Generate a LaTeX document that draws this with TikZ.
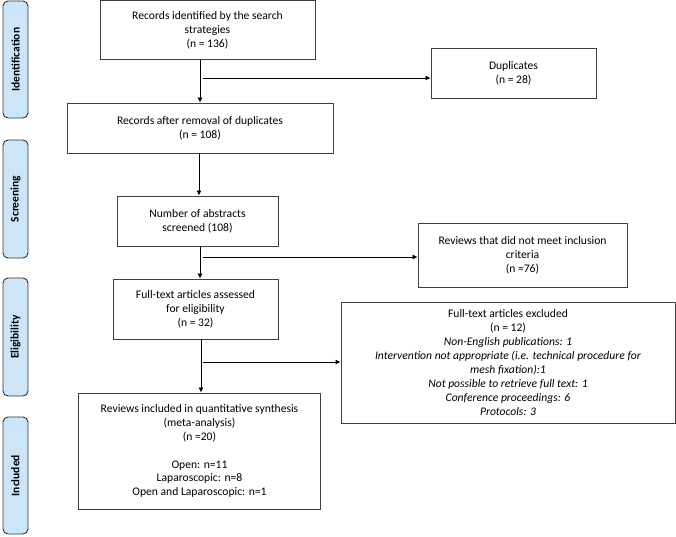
\documentclass[tikz,border=0pt]{standalone}
\usepackage{fontspec}
\setmainfont{Carlito}
\usetikzlibrary{arrows.meta}

\begin{document}
\begin{tikzpicture}[x=1pt,y=-1pt,
    box/.style={draw=black!75,line width=0.9pt,align=center,inner sep=0pt,
      font=\fontsize{11.6}{13.9}\selectfont},
    phase/.style={draw=black!80,line width=0.9pt,rounded corners=5pt,
      fill={rgb,255:red,204;green,229;blue,249},rotate=90,inner sep=0pt,
      minimum height=25pt,font=\fontsize{11.5}{13}\selectfont\bfseries},
    arr/.style={-{Latex[length=5pt,width=5pt]},line width=0.8pt}]
  \useasboundingbox (0,0) rectangle (676,536);

  \foreach \lbl/\y/\len in {Identification/59.5/117,Screening/199/118,
                            Eligibility/337/118,Included/475.5/117} {
    \node[phase,minimum width=\len pt] (ph-\lbl) at (15.5,\y) {\lbl};
  }

  \node[box,minimum width=215pt,minimum height=59pt] (found) at (207.5,30)
    {Records identified by the search\\strategies\\(n = 136)};
  \node[box,minimum width=165pt,minimum height=50pt] (dup) at (513.5,73)
    {Duplicates\\(n = 28)};
  \node[box,minimum width=266pt,minimum height=50pt] (nodup) at (200,128)
    {Records after removal of duplicates\\(n = 108)};
  \node[box,minimum width=161pt,minimum height=50pt] (abstr) at (197.5,221)
    {Number of abstracts\\screened (108)};
  \node[box,minimum width=209pt,minimum height=64pt] (notmeet) at (522.5,255)
    {Reviews that did not meet inclusion\\criteria\\(n =76)};
  \node[box,minimum width=165pt,minimum height=60pt] (fulltxt) at (195.5,309)
    {Full-text articles assessed\\for eligibility\\(n = 32)};
  \node[box,minimum width=334pt,minimum height=121pt] (excl) at (508,362.5)
    {Full-text articles excluded\\(n = 12)\\
     \textit{Non-English publications: 1}\\
     \textit{Intervention not appropriate (i.e. technical procedure for}\\
     \textit{mesh fixation):1}\\
     \textit{Not possible to retrieve full text: 1}\\
     \textit{Conference proceedings: 6}\\
     \textit{Protocols: 3}};
  \node[box,minimum width=242pt,minimum height=116pt] (incl) at (199.5,451)
    {Reviews included in quantitative synthesis\\(meta-analysis)\\(n =20)\\[13.9pt]
     Open: n=11\\Laparoscopic: n=8\\Open and Laparoscopic: n=1};

  % main flow
  \draw[arr] (found.south -| nodup.north) -- (nodup.north);
  \draw[arr] (nodup.south -| abstr.north) ++(1.5,0) coordinate (t2) -- (t2 |- abstr.north);
  \draw[arr] (abstr.south) ++(2.5,0) coordinate (t3) -- (t3 |- fulltxt.north);
  \draw[arr] (fulltxt.south) ++(5.5,0) coordinate (t4) -- (t4 |- incl.north);

  % exclusions
  \coordinate (s1) at (203,78);
  \coordinate (s2) at (203,257);
  \coordinate (s3) at (203,362);
  \draw[arr] (s1) -- (s1 -| dup.west);
  \draw[arr] (s2) -- (s2 -| notmeet.west);
  \draw[arr] (s3) -- (s3 -| excl.west);
\end{tikzpicture}
\end{document}
